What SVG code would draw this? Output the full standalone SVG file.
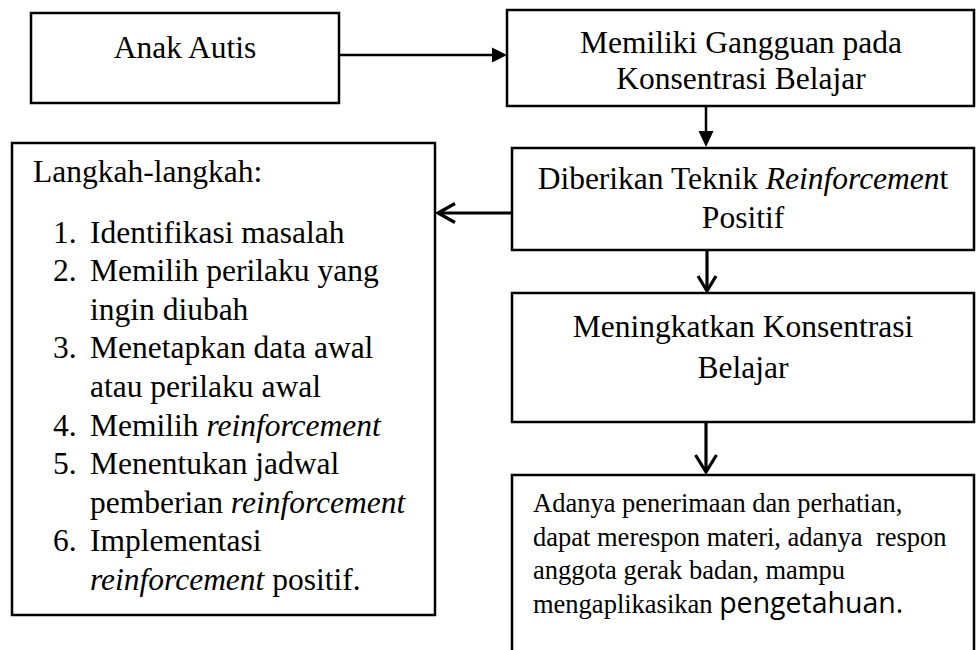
<svg xmlns="http://www.w3.org/2000/svg" width="976" height="650" viewBox="0 0 976 650">
<style>
.box{fill:#fff;stroke:#000;stroke-width:2.5}
.t{font-family:"Liberation Serif","Times New Roman",serif;font-size:31.5px;fill:#000}
.c{text-anchor:middle}
.s{font-family:"Liberation Serif","Times New Roman",serif;font-size:26.5px;fill:#000}
.sans{font-family:"Open Sans","Liberation Sans",sans-serif;font-size:28.5px}
.i{font-style:italic}
.ln{stroke:#000;stroke-width:2.5;fill:none}
.lnb{stroke:#000;stroke-width:3.2;fill:none}
</style>
<rect width="976" height="650" fill="#fff"/>
<g id="anak-autis">
<rect class="box" x="31" y="13" width="308" height="90"/>
<text class="t c" x="185" y="58">Anak Autis</text>
</g>
<g id="gangguan">
<rect class="box" x="507" y="10" width="467" height="96"/>
<text class="t c" x="741" y="53">Memiliki Gangguan pada</text>
<text class="t c" x="741" y="89">Konsentrasi Belajar</text>
</g>
<g id="teknik">
<rect class="box" x="512" y="148" width="462" height="102"/>
<text class="t c" x="743" y="189">Diberikan Teknik <tspan class="i">Reinforcemen</tspan>t</text>
<text class="t c" x="743" y="228">Positif</text>
</g>
<g id="meningkatkan">
<rect class="box" x="512" y="293" width="462" height="129"/>
<text class="t c" x="743" y="337">Meningkatkan Konsentrasi</text>
<text class="t c" x="743" y="378">Belajar</text>
</g>
<g id="hasil">
<rect class="box" x="512" y="475" width="462" height="190"/>
<text class="s" x="533" y="512">Adanya penerimaan dan perhatian,</text>
<text class="s" x="533" y="546" xml:space="preserve">dapat merespon materi, adanya  respon</text>
<text class="s" x="533" y="579">anggota gerak badan, mampu</text>
<text class="s" x="533" y="613">mengaplikasikan <tspan class="sans">pengetahuan.</tspan></text>
</g>
<g id="langkah">
<rect class="box" x="12" y="143" width="423" height="472"/>
<text class="t" x="33" y="182">Langkah-langkah:</text>
<text class="t" x="53" y="243">1.</text><text class="t" x="90" y="243">Identifikasi masalah</text>
<text class="t" x="53" y="281">2.</text><text class="t" x="90" y="281">Memilih perilaku yang</text>
<text class="t" x="90" y="320">ingin diubah</text>
<text class="t" x="53" y="358">3.</text><text class="t" x="90" y="358">Menetapkan data awal</text>
<text class="t" x="90" y="397">atau perilaku awal</text>
<text class="t" x="53" y="436">4.</text><text class="t" x="90" y="436">Memilih <tspan class="i">reinforcement</tspan></text>
<text class="t" x="53" y="474">5.</text><text class="t" x="90" y="474">Menentukan jadwal</text>
<text class="t" x="90" y="513">pemberian <tspan class="i">reinforcement</tspan></text>
<text class="t" x="53" y="551">6.</text><text class="t" x="90" y="551">Implementasi</text>
<text class="t" x="90" y="590"><tspan class="i">reinforcement</tspan> positif.</text>
</g>
<g id="connectors">
<line class="ln" x1="339" y1="55" x2="494" y2="55"/>
<polygon points="507,55 492,47.5 492,62.5" fill="#000"/>
<line class="ln" x1="706" y1="106" x2="706" y2="133"/>
<polygon points="706,147 698.5,131 713.5,131" fill="#000"/>
<line class="lnb" x1="511" y1="213" x2="438" y2="213"/>
<polyline class="lnb" points="455,203.5 438,213 455,222.5"/>
<line class="lnb" x1="707" y1="250" x2="707" y2="291"/>
<polyline class="lnb" points="698,276 707,291 716,276"/>
<line class="lnb" x1="706" y1="422" x2="706" y2="472"/>
<polyline class="lnb" points="695.5,455 706,472 716.5,455"/>
</g>
</svg>
